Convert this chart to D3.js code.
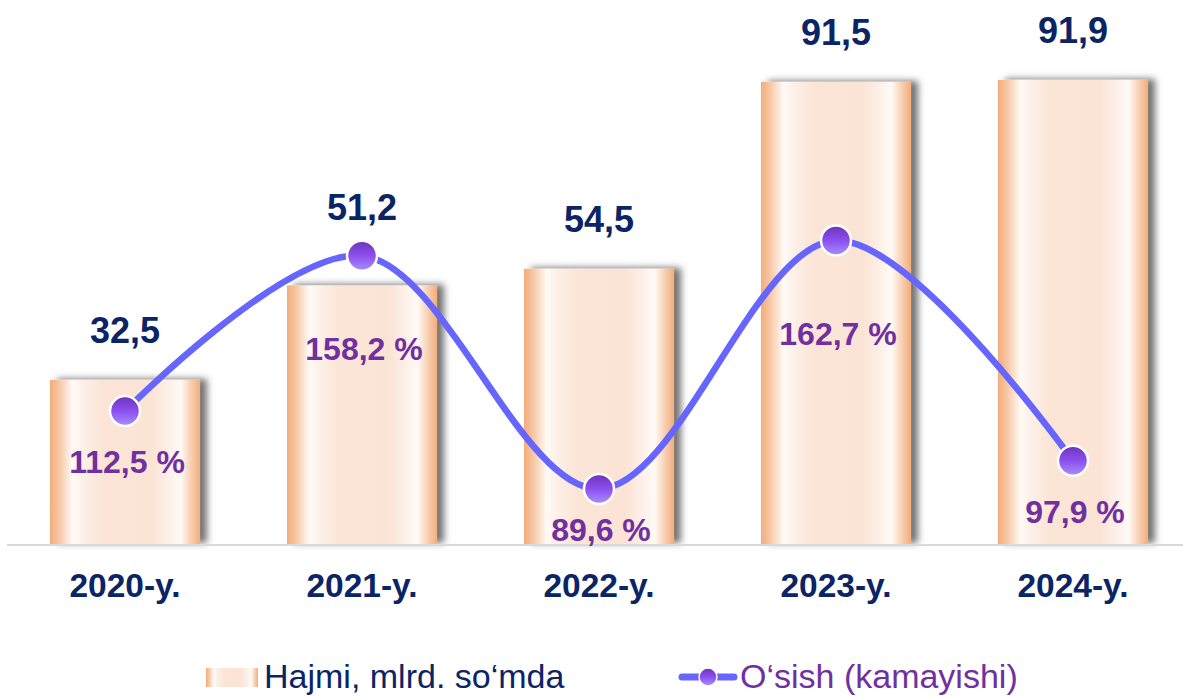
<!DOCTYPE html>
<html>
<head>
<meta charset="utf-8">
<script src="https://cdn.jsdelivr.net/npm/d3@7"></script>
<style>
  body { margin: 0; background: #fff; }
  svg { display: block; font-family: "Liberation Sans", Arial, sans-serif; }
</style>
</head>
<body>
<div class="chart"></div>
<script>
// data
const years = ["2020-y.", "2021-y.", "2022-y.", "2023-y.", "2024-y."];
const volume = [32.5, 51.2, 54.5, 91.5, 91.9];      // Hajmi, mlrd. so'mda
const growth = [112.5, 158.2, 89.6, 162.7, 97.9];   // O'sish (kamayishi), %
const legendNames = ["Hajmi, mlrd. so\u2018mda", "O\u2018sish (kamayishi)"];

const W = 1183, H = 696;
const navy = "#0b2466", purple = "#7030a0", lineCol = "#6666ff";
const fmt = v => String(v).replace(".", ",");

const svg = d3.select(".chart").append("svg")
    .attr("width", W)
    .attr("height", H);

const defs = svg.append("defs");

// bar gradient (horizontal, cylinder look)
const bg = defs.append("linearGradient").attr("id", "barGrad")
    .attr("x1", "0%").attr("x2", "100%").attr("y1", "0%").attr("y2", "0%");
[[0, "#f3ad7c"], [6, "#f7c6a3"], [15, "#fffaf6"], [22, "#fdf0e8"], [35, "#fbe5d6"],
 [68, "#fbe4d5"], [80, "#fdf1ea"], [87, "#fffaf6"], [94, "#f8cfb2"], [100, "#f3ad7c"]]
  .forEach(s => bg.append("stop").attr("offset", s[0] + "%").attr("stop-color", s[1]));

const shadow = defs.append("filter").attr("id", "shadow")
    .attr("x", "-20%").attr("y", "-20%").attr("width", "140%").attr("height", "140%");
shadow.append("feDropShadow")
    .attr("dx", 7).attr("dy", -1).attr("stdDeviation", 3.5)
    .attr("flood-color", "#000").attr("flood-opacity", 0.55);

// marker gradient (vertical)
const mg = defs.append("linearGradient").attr("id", "dotGrad")
    .attr("x1", "0%").attr("x2", "0%").attr("y1", "0%").attr("y2", "100%");
mg.append("stop").attr("offset", "0%").attr("stop-color", "#6a35b8");
mg.append("stop").attr("offset", "50%").attr("stop-color", "#8d4ef0");
mg.append("stop").attr("offset", "100%").attr("stop-color", "#a592ff");

// scales
const x = d3.scaleBand()
    .domain(years)
    .range([6.5, 1191.5])
    .paddingInner(0.367)
    .paddingOuter(0.1835);

const y = d3.scaleLinear().domain([0, 100]).range([544, 39]);
const y2 = d3.scaleLinear().domain([73.4, 222]).range([544, 39]);

const cx = d => x(d) + x.bandwidth() / 2;

// bars
svg.append("g").selectAll("rect")
    .data(years)
    .enter().append("rect")
    .attr("x", d => x(d))
    .attr("y", (d, i) => y(volume[i]))
    .attr("width", x.bandwidth())
    .attr("height", (d, i) => y(0) - y(volume[i]))
    .attr("fill", "url(#barGrad)")
    .attr("filter", "url(#shadow)");

// baseline
svg.append("line")
    .attr("x1", 7).attr("x2", W)
    .attr("y1", y(0) + 1).attr("y2", y(0) + 1)
    .attr("stroke", "#d9d9d9").attr("stroke-width", 2);

// x axis labels
const xAxis = svg.append("g")
    .attr("transform", `translate(0,${y(0) + 53})`)
    .call(d3.axisBottom(x).tickSize(0).tickPadding(0));
xAxis.select(".domain").remove();
xAxis.selectAll("text")
    .attr("fill", navy)
    .attr("font-size", 33.5)
    .attr("font-weight", "bold")
    .attr("font-family", "Liberation Sans, Arial, sans-serif")
    .attr("dy", 0);

// growth line
const pts = years.map((d, i) => [cx(d), y2(growth[i])]);
svg.append("path")
    .datum(pts)
    .attr("d", d3.line().curve(d3.curveCatmullRom.alpha(0.5)))
    .attr("fill", "none")
    .attr("stroke", lineCol)
    .attr("stroke-width", 6.5);

svg.append("g").selectAll("circle")
    .data(pts)
    .enter().append("circle")
    .attr("cx", d => d[0])
    .attr("cy", d => d[1])
    .attr("r", 15)
    .attr("fill", "url(#dotGrad)")
    .attr("stroke", "#fff")
    .attr("stroke-width", 2.5);

// value labels above bars (lifted over the marker when they would collide)
svg.append("g").selectAll("text")
    .data(years)
    .enter().append("text")
    .attr("x", d => cx(d))
    .attr("y", (d, i) => Math.min(y(volume[i]) - 37, y2(growth[i]) - 36))
    .attr("text-anchor", "middle")
    .attr("font-size", 36)
    .attr("font-weight", "bold")
    .attr("fill", navy)
    .text((d, i) => fmt(volume[i]));

// percent labels below the markers
const isPeak = i => (i === 0 || growth[i] > growth[i - 1]) && (i === growth.length - 1 || growth[i] > growth[i + 1]);
svg.append("g").selectAll("text")
    .data(years)
    .enter().append("text")
    .attr("x", d => cx(d) + 2)
    .attr("y", (d, i) => Math.min(y2(growth[i]) + (isPeak(i) && i > 0 ? 104 : 62), y(0) - 3))
    .attr("text-anchor", "middle")
    .attr("font-size", 32)
    .attr("font-weight", "bold")
    .attr("fill", purple)
    .text((d, i) => fmt(growth[i]) + " %");

// legend
const lg = svg.append("g");
lg.append("rect")
    .attr("x", 206).attr("y", 668).attr("width", 52).attr("height", 19)
    .attr("fill", "url(#barGrad)");
lg.append("text")
    .attr("x", 264).attr("y", 688)
    .attr("font-size", 34)
    .attr("fill", navy)
    .text(legendNames[0]);

lg.append("line")
    .attr("x1", 682).attr("x2", 734)
    .attr("y1", 677).attr("y2", 677)
    .attr("stroke", lineCol).attr("stroke-width", 7)
    .attr("stroke-linecap", "round");
lg.append("circle")
    .attr("cx", 708).attr("cy", 677).attr("r", 9)
    .attr("fill", "url(#dotGrad)")
    .attr("stroke", "#fff").attr("stroke-width", 1.5);
lg.append("text")
    .attr("x", 740).attr("y", 688)
    .attr("font-size", 34)
    .attr("fill", purple)
    .text(legendNames[1]);
</script>
</body>
</html>
